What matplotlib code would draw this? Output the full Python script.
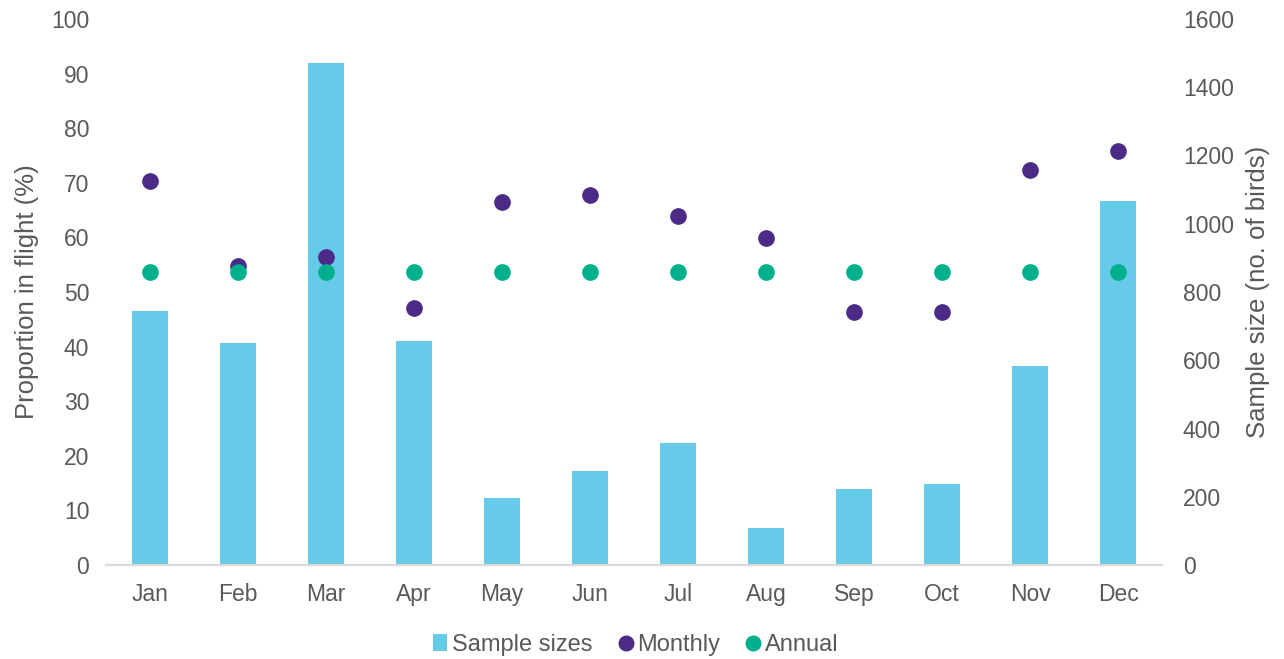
import matplotlib
matplotlib.use("Agg")
import matplotlib.pyplot as plt
from matplotlib.lines import Line2D
from matplotlib.patches import Patch
import numpy as np

plt.rcParams['font.family'] = ['Liberation Sans', 'DejaVu Sans']

months = ["Jan", "Feb", "Mar", "Apr", "May", "Jun", "Jul", "Aug", "Sep", "Oct", "Nov", "Dec"]
sample_sizes = [744, 650, 1472, 656, 196, 275, 357, 109, 223, 237, 583, 1067]
monthly = [70.3, 54.8, 56.4, 47.0, 66.5, 67.7, 63.9, 59.8, 46.3, 46.3, 72.3, 75.8]
annual = [53.6] * 12

bar_color = "#65CBE9"
monthly_color = "#4B2A88"
annual_color = "#00B08C"
text_color = "#595959"

fig = plt.figure(figsize=(12.84, 6.59), dpi=100)
ax = fig.add_axes([106/1284, 94/659, (1162-106)/1284, (565-19)/659])
ax2 = ax.twinx()

x = np.arange(len(months))
ax2.bar(x, sample_sizes, width=0.41, color=bar_color, zorder=1)
ax.set_zorder(ax2.get_zorder() + 1)
ax.patch.set_visible(False)

ax.plot(x, monthly, 'o', color=monthly_color, markersize=11, linestyle='none', zorder=3)
ax.plot(x, annual, 'o', color=annual_color, markersize=11, linestyle='none', zorder=4)

ax.set_xlim(-0.5, len(months) - 0.5)
ax.set_ylim(0, 100)
ax2.set_ylim(0, 1600)
ax.set_yticks(range(0, 101, 10))
ax2.set_yticks(range(0, 1601, 200))
ax.set_xticks(x)
ax.set_xticklabels(months)

for a in (ax, ax2):
    for s in ("top", "left", "right"):
        a.spines[s].set_visible(False)
    a.spines["bottom"].set_color("#D9D9D9")
    a.spines["bottom"].set_linewidth(1.5)
    a.tick_params(axis='both', length=0, labelsize=16.5, colors=text_color)
ax.tick_params(axis='x', pad=13)
ax.tick_params(axis='y', pad=12)
ax2.tick_params(axis='y', pad=15)

ax.set_ylabel("Proportion in flight (%)", fontsize=18.5, color=text_color, labelpad=9)
ax2.set_ylabel("Sample size (no. of birds)", fontsize=18.5, color=text_color, labelpad=9)

handles = [
    Patch(facecolor=bar_color, label="Sample sizes"),
    Line2D([0], [0], marker='o', color='none', markerfacecolor=monthly_color, markeredgecolor=monthly_color, markersize=10.5, label="Monthly"),
    Line2D([0], [0], marker='o', color='none', markerfacecolor=annual_color, markeredgecolor=annual_color, markersize=10.5, label="Annual"),
]
leg = fig.legend(handles=handles, loc='center', bbox_to_anchor=(636/1284, 1 - 645/659), ncol=3,
                 frameon=False, fontsize=17, handlelength=0.6, handleheight=0.7, handletextpad=0.2,
                 columnspacing=1.1)
for t in leg.get_texts():
    t.set_color(text_color)

fig.savefig("out.png", dpi=100)
